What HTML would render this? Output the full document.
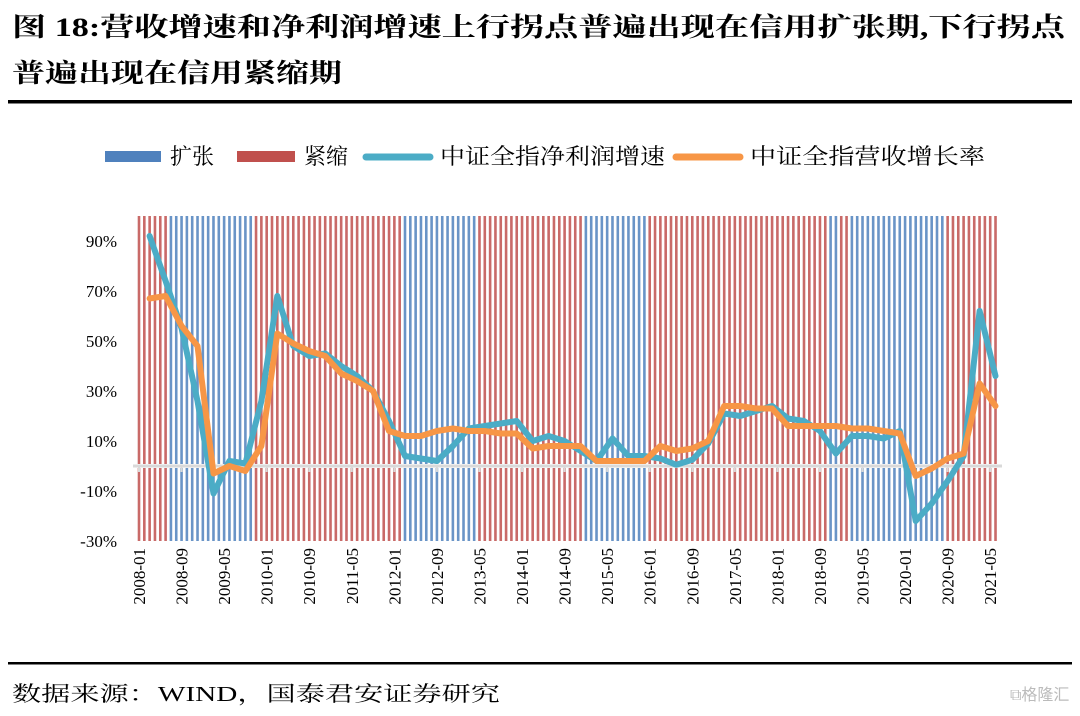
<!DOCTYPE html>
<html><head><meta charset="utf-8"><style>
html,body{margin:0;padding:0;background:#fff;}
svg{display:block;}
</style></head><body>
<svg id="chart" width="1080" height="716" xmlns="http://www.w3.org/2000/svg" font-family="'Liberation Serif','Noto Serif CJK SC',serif">
  <text x="12" y="36" font-size="26" font-weight="bold" textLength="1053" lengthAdjust="spacingAndGlyphs" font-family="'Liberation Serif','Noto Serif CJK SC',serif">图 18:营收增速和净利润增速上行拐点普遍出现在信用扩张期,下行拐点</text>
  <text x="12" y="82" font-size="26" font-weight="bold" textLength="330" lengthAdjust="spacingAndGlyphs" font-family="'Liberation Serif','Noto Serif CJK SC',serif">普遍出现在信用紧缩期</text>
  <rect x="8" y="100" width="1064" height="3.5" fill="#000"/>
  <g font-size="22">
    <g><rect x="105" y="151" width="56" height="11" fill="#4F81BD"/><text x="170" y="164">扩张</text></g>
    <g><rect x="237" y="151" width="58" height="11" fill="#C0504D"/><text x="304" y="164">紧缩</text></g>
    <g><line x1="366" y1="157" x2="430" y2="157" stroke="#4BACC6" stroke-width="7" stroke-linecap="round"/><text x="440" y="164" textLength="225" lengthAdjust="spacingAndGlyphs">中证全指净利润增速</text></g>
    <g><line x1="676" y1="157" x2="740" y2="157" stroke="#F79646" stroke-width="7" stroke-linecap="round"/><text x="750" y="164" textLength="235" lengthAdjust="spacingAndGlyphs">中证全指营收增长率</text></g>
  </g>
  <g id="bars"></g>
  <g id="axis"></g>
  <g id="lines"></g>
  <rect x="8" y="662" width="1064" height="2.5" fill="#000"/>
  <text x="12" y="701" font-size="21" textLength="488" lengthAdjust="spacingAndGlyphs">数据来源：WIND，国泰君安证券研究</text>
  <text x="1010" y="700" font-size="16" fill="#bbb" font-family="'Liberation Sans','Noto Sans CJK SC',sans-serif">⧉格隆汇</text>
</svg>
<script>
// Data
const startYear = 2008;
const monthCount = 162; // 2008-01 .. 2021-06
const expansionRanges = [[6,21],[50,63],[84,95],[130,131],[134,151]];
const yTicks = [90,70,50,30,10,-10,-30];
const xTickLabels = ["2008-01","2008-09","2009-05","2010-01","2010-09","2011-05","2012-01","2012-09","2013-05","2014-01","2014-09","2015-05","2016-01","2016-09","2017-05","2018-01","2018-09","2019-05","2020-01","2020-09","2021-05"];
const netProfitGrowth = [92,74,55,26, -11,2,1,26, 68,48,44,45, 40,36,30,18, 4,3,2,8, 15,16,17,18, 10,12,10,6, 2,11,4,4, 3,0.5,2.5,9, 21,20,22,24, 19,18,14,5, 12,12,11,14, -22,-15,-6,4, 62,36];
const revenueGrowth = [67,68,56,48, -3,0,-2,8, 53,49,46,44, 37,34,30,14, 12,12,14,15, 14,14,13,13, 7,8,8,8, 2,2,2,2, 8,6,7,10, 24,24,23,23, 16,16,16,16, 15,15,14,13, -4,-1,3,5, 33,24];
const barTop = 100, barBottom = -30;

const NS = "http://www.w3.org/2000/svg";
const x0 = 139, pxPerMonth = 5.32;
function xScale(m){ return x0 + m*pxPerMonth; }
function yScale(v){ return 466 - v*2.5; }
function mk(tag, attrs, parent){ const e=document.createElementNS(NS,tag); for(const k in attrs) e.setAttribute(k,attrs[k]); parent.appendChild(e); return e; }
function isExp(m){ return expansionRanges.some(r=>m>=r[0]&&m<=r[1]); }

const bars = document.getElementById('bars');
for(let m=0;m<monthCount;m++){
  const c = isExp(m) ? '#4F81BD' : '#C0504D';
  const up = mk('rect',{x:xScale(m)-1.3,y:yScale(barTop),width:2.6,height:yScale(0)-2-yScale(barTop),fill:c,'fill-opacity':0.85},bars);
  
  
  const dn = mk('rect',{x:xScale(m)-1.3,y:yScale(0)+2,width:2.6,height:yScale(barBottom)-yScale(0)-2,fill:c,'fill-opacity':0.85},bars);
  
  
}

const axis = document.getElementById('axis');
const zl = mk('line',{x1:133,x2:1002,y1:yScale(0),y2:yScale(0),stroke:'#d9d9d9','stroke-width':3},axis);


yTicks.forEach(v=>{
  const t = mk('text',{x:117,y:yScale(v)+6,'text-anchor':'end','font-size':17},axis);
  t.textContent = v+'%';
  
  
});
xTickLabels.forEach((lab,i)=>{
  const m = i*8;
  const tk = mk('line',{x1:xScale(m),x2:xScale(m),y1:yScale(0),y2:yScale(0)+6,stroke:'#d9d9d9','stroke-width':2},axis);
  
  
  const t = mk('text',{transform:`translate(${xScale(m)+6},548) rotate(-90)`,'text-anchor':'end','font-size':17},axis);
  t.textContent = lab;
  
  
});

const lines = document.getElementById('lines');
function drawLine(arr,color,name){
  const pts = arr.map((v,i)=>xScale(2+i*3).toFixed(1)+','+yScale(v).toFixed(1)).join(' ');
  const p = mk('polyline',{points:pts,fill:'none',stroke:color,'stroke-width':6,'stroke-linejoin':'round','stroke-linecap':'round'},lines);
  
  
}
drawLine(netProfitGrowth,'#4BACC6','net-profit-growth-line');
drawLine(revenueGrowth,'#F79646','revenue-growth-line');
</script>
</body></html>
